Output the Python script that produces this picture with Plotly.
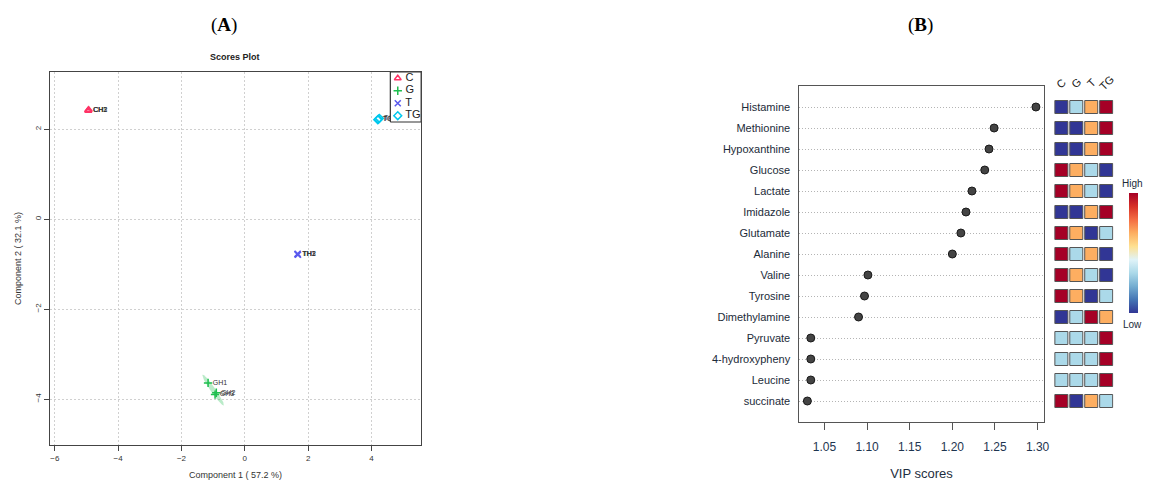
import numpy as np
import plotly.graph_objects as go

W, H = 1149, 488

# ---------------- PLS-DA scores (panel A) ----------------
sample_ids = ["CH1", "CH2", "CH3", "GH1", "GH2", "GH3",
              "TH1", "TH2", "TH3", "TGH1", "TGH2", "TGH3"]
sample_groups = ["C", "C", "C", "G", "G", "G", "T", "T", "T", "TG", "TG", "TG"]
comp1 = [-4.95, -4.93, -4.94, -1.16, -0.90, -0.94, 1.66, 1.68, 1.67, 4.22, 4.25, 4.20]
comp2 = [2.42, 2.43, 2.41, -3.64, -3.86, -3.90, -0.78, -0.79, -0.77, 2.22, 2.24, 2.21]
group_names = ["C", "G", "T", "TG"]
group_colors = ["#ff3366", "#1fbf4f", "#5a5aee", "#00c8ee"]
group_symbols = ["triangle-up-open", "cross-thin-open", "x-thin-open", "diamond-open"]

# ---------------- VIP scores (panel B) ----------------
metabolites = ["Histamine", "Methionine", "Hypoxanthine", "Glucose", "Lactate",
               "Imidazole", "Glutamate", "Alanine", "Valine", "Tyrosine",
               "Dimethylamine", "Pyruvate", "4-hydroxypheny", "Leucine", "succinate"]
vip_scores = [1.298, 1.249, 1.243, 1.238, 1.223, 1.216, 1.210, 1.200,
              1.101, 1.097, 1.090, 1.034, 1.034, 1.034, 1.030]
heat_columns = ["C", "G", "T", "TG"]
# relative concentration per group: 1 = low ... 4 = high
heat_levels = [
    [1, 2, 3, 4],  # Histamine
    [1, 1, 3, 4],  # Methionine
    [1, 1, 3, 4],  # Hypoxanthine
    [4, 3, 2, 1],  # Glucose
    [4, 3, 2, 1],  # Lactate
    [1, 1, 3, 4],  # Imidazole
    [4, 3, 1, 2],  # Glutamate
    [4, 2, 3, 1],  # Alanine
    [4, 3, 2, 1],  # Valine
    [4, 3, 1, 2],  # Tyrosine
    [1, 2, 4, 3],  # Dimethylamine
    [2, 2, 2, 4],  # Pyruvate
    [2, 2, 2, 4],  # 4-hydroxypheny
    [2, 2, 2, 4],  # Leucine
    [4, 1, 3, 2],  # succinate
]

rdylbu_r = ["#313695", "#4575b4", "#74add1", "#abd9e9", "#e0f3f8",
            "#fee090", "#fdae61", "#f46d43", "#d73027", "#a50026"]
heat_scale = [[i / (len(rdylbu_r) - 1), c] for i, c in enumerate(rdylbu_r)]


def px_x(p):
    return p / W


def px_y(p):
    return 1 - p / H


def conf_ellipse(xs, ys, chi2=5.991, n=80):
    pts = np.vstack([xs, ys])
    mu = pts.mean(axis=1)
    vals, vecs = np.linalg.eigh(np.cov(pts))
    vals = np.clip(vals, 1e-5, None)
    t = np.linspace(0, 2 * np.pi, n)
    circ = np.vstack([np.cos(t), np.sin(t)])
    e = vecs @ (np.sqrt(vals * chi2)[:, None] * circ) + mu[:, None]
    return e[0], e[1]


fig = go.Figure()

c1 = np.array(comp1)
c2 = np.array(comp2)
grp = np.array(sample_groups)
ids = np.array(sample_ids)

# confidence regions
for g, col in zip(group_names, group_colors):
    m = grp == g
    ex, ey = conf_ellipse(c1[m], c2[m])
    fig.add_trace(go.Scatter(x=ex, y=ey, mode="lines", fill="toself",
                             fillcolor=col, opacity=0.3, line=dict(width=0),
                             hoverinfo="skip", showlegend=False,
                             xaxis="x", yaxis="y"))

# score points with sample labels
for g, col, sym in zip(group_names, group_colors, group_symbols):
    m = grp == g
    fig.add_trace(go.Scatter(
        x=c1[m], y=c2[m], mode="markers+text", text=ids[m],
        textposition="middle right", textfont=dict(size=7, color="#333333"),
        marker=dict(symbol=sym, size=6, color=col, line=dict(width=1.5, color=col)),
        showlegend=False, xaxis="x", yaxis="y", cliponaxis=False))

# legend box drawn on an overlay axis spanning the score plot area
lx0, lx1, ly0, ly1 = 0.917, 1.0, 0.866, 1.0
fig.add_trace(go.Scatter(x=[lx0, lx1, lx1, lx0, lx0], y=[ly0, ly0, ly1, ly1, ly0],
                         mode="lines", fill="toself", fillcolor="white",
                         line=dict(color="#333333", width=1.2),
                         hoverinfo="skip", showlegend=False,
                         xaxis="x4", yaxis="y4"))
leg_y = [ly1 - (0.5 + i) * (ly1 - ly0) / len(group_names) for i in range(len(group_names))]
fig.add_trace(go.Scatter(
    x=[lx0 + 0.02] * len(group_names), y=leg_y, mode="markers+text",
    text=[" " + g for g in group_names], textposition="middle right",
    textfont=dict(size=11, color="#222222", family="Liberation Sans, Arial"),
    marker=dict(symbol=group_symbols, size=6, color=group_colors,
                line=dict(width=1.5, color=group_colors)),
    hoverinfo="skip", showlegend=False, xaxis="x4", yaxis="y4", cliponaxis=False))

# ---------------- VIP dot chart ----------------
n_met = len(metabolites)
row_pos = list(range(n_met - 1, -1, -1))
fig.add_trace(go.Scatter(
    x=vip_scores, y=row_pos, mode="markers",
    marker=dict(size=8, color="#444444", line=dict(width=1, color="#1a1a1a")),
    showlegend=False, xaxis="x2", yaxis="y2"))

# group-level heat squares
hx, hy, hz = [], [], []
for r, levels in zip(row_pos, heat_levels):
    for ci, v in enumerate(levels):
        hx.append(ci)
        hy.append(r)
        hz.append(v)
fig.add_trace(go.Scatter(
    x=hx, y=hy, mode="markers",
    marker=dict(symbol="square", size=13, color=hz, colorscale=heat_scale,
                cmin=1, cmax=4, line=dict(width=1, color="#555555"),
                colorbar=dict(x=px_x(1134), xanchor="left", y=px_y(253), yanchor="middle",
                              len=120, lenmode="pixels", thickness=9, thicknessmode="pixels",
                              outlinewidth=0, showticklabels=False, ticks="",
                              xpad=0, ypad=0)),
    showlegend=False, xaxis="x3", yaxis="y3"))

axis_font = dict(family="Liberation Sans, Arial", size=8, color="#333333")


def note(text, xp, yp, size, color="#222222", family=None, angle=0, xref="paper"):
    f = dict(size=size, color=color)
    if family:
        f["family"] = family
    return dict(text=text, x=xp, y=px_y(yp), xref=xref, yref="paper",
                xanchor="center", yanchor="middle", textangle=angle,
                showarrow=False, font=f)


annotations = [
    note("(<b>A</b>)", px_x(225), 25, 19, "#000000", "Liberation Serif, DejaVu Serif"),
    note("(<b>B</b>)", px_x(925), 25, 19, "#000000", "Liberation Serif, DejaVu Serif"),
    note("<b>Scores Plot</b>", px_x(236), 57, 9),
    note("High", px_x(1137), 183, 10, "#1c2b39"),
    note("Low", px_x(1137), 324, 10, "#1c2b39"),
]
for ci, name in enumerate(heat_columns):
    annotations.append(note(name, ci, 83, 11, "#222222", angle=-45, xref="x3"))

fig.update_layout(
    width=W, height=H, margin=dict(l=0, r=0, t=0, b=0),
    paper_bgcolor="white", plot_bgcolor="white",
    font=dict(family="Liberation Sans, Arial", color="#222222"),
    xaxis=dict(domain=[px_x(50), px_x(423)], range=[-6.16, 5.57],
               tickvals=[-6, -4, -2, 0, 2, 4], ticks="outside", ticklen=5,
               tickcolor="#444444", tickfont=axis_font,
               showline=True, linecolor="#444444", linewidth=1, mirror=True,
               showgrid=True, gridcolor="#d0d0d0", griddash="2px,2px", zeroline=False,
               title=dict(text="Component 1 ( 57.2 %)", font=dict(size=9, color="#333333"),
                          standoff=10)),
    yaxis=dict(domain=[px_y(445), px_y(72)], range=[-5.02, 3.27],
               tickvals=[-4, -2, 0, 2], ticks="outside", ticklen=5, tickangle=-90,
               tickcolor="#444444", tickfont=axis_font,
               showline=True, linecolor="#444444", linewidth=1, mirror=True,
               showgrid=True, gridcolor="#d0d0d0", griddash="2px,2px", zeroline=False,
               title=dict(text="Component 2 ( 32.1 %)", font=dict(size=9, color="#333333"),
                          standoff=10)),
    xaxis4=dict(overlaying="x", range=[0, 1], visible=False),
    yaxis4=dict(overlaying="y", range=[0, 1], visible=False),
    xaxis2=dict(domain=[px_x(802), px_x(1049)], range=[1.0196, 1.308], anchor="y2",
                tickvals=[1.05, 1.10, 1.15, 1.20, 1.25, 1.30],
                ticktext=["1.05", "1.10", "1.15", "1.20", "1.25", "1.30"],
                ticks="outside", ticklen=7, tickcolor="#555555", ticklabelstandoff=6,
                tickfont=dict(size=12, color="#1e3550"),
                showline=True, linecolor="#555555", linewidth=1.2, mirror=True,
                showgrid=False, zeroline=False,
                title=dict(text="VIP scores", font=dict(size=13, color="#1e2e40"), standoff=16)),
    yaxis2=dict(domain=[px_y(422), px_y(86)], range=[-1, n_met], anchor="x2",
                tickvals=row_pos, ticktext=metabolites,
                ticks="outside", ticklen=5, tickcolor="rgba(0,0,0,0)",
                tickfont=dict(size=11, color="#1c2b39"),
                showline=True, linecolor="#555555", linewidth=1.2, mirror=True,
                showgrid=True, gridcolor="#b4b4b4", griddash="1px,2px", zeroline=False),
    xaxis3=dict(domain=[px_x(1058.5), px_x(1118.5)], range=[-0.5, 3.5], anchor="y3",
                visible=False),
    yaxis3=dict(domain=[px_y(422), px_y(86)], range=[-1, n_met], anchor="x3",
                visible=False),
    annotations=annotations,
)

fig.write_html("out.html")
